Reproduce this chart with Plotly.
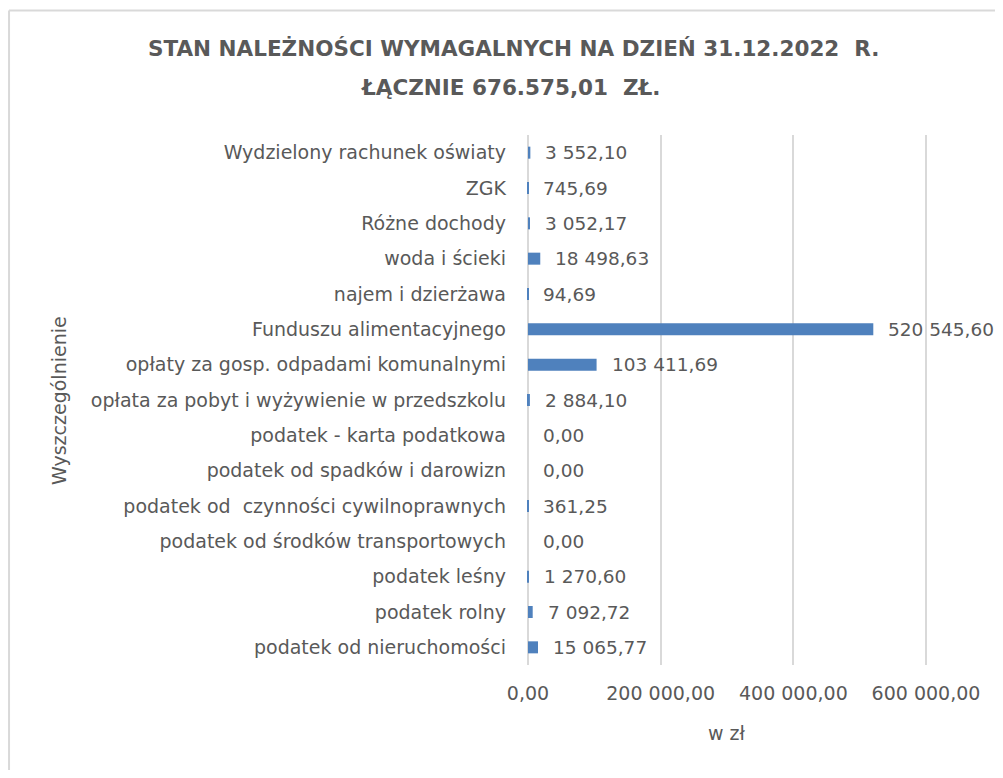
import plotly.graph_objects as go

categories = [
    "podatek od nieruchomości",
    "podatek rolny",
    "podatek leśny",
    "podatek od środków transportowych",
    "podatek od  czynności cywilnoprawnych",
    "podatek od spadków i darowizn",
    "podatek - karta podatkowa",
    "opłata za pobyt i wyżywienie w przedszkolu",
    "opłaty za gosp. odpadami komunalnymi",
    "Funduszu alimentacyjnego",
    "najem i dzierżawa",
    "woda i ścieki",
    "Różne dochody",
    "ZGK",
    "Wydzielony rachunek oświaty",
]
values = [15065.77, 7092.72, 1270.60, 0.00, 361.25, 0.00, 0.00, 2884.10,
          103411.69, 520545.60, 94.69, 18498.63, 3052.17, 745.69, 3552.10]
x_ticks = [0, 200000, 400000, 600000]

title_line1 = "STAN NALEŻNOŚCI WYMAGALNYCH NA DZIEŃ 31.12.2022  R."
title_line2 = "ŁĄCZNIE 676.575,01  ZŁ."
x_title = "w zł"
y_title = "Wyszczególnienie"

FONT = "DejaVu Sans"
TXT = "#595959"
GRID = "#d9d9d9"
FS = 19


def fmt(v):
    s = f"{v:,.2f}"
    return s.replace(",", " ").replace(".", ",")


fig = go.Figure()
fig.add_trace(go.Bar(
    y=categories, x=values, orientation="h",
    marker=dict(color="#4f81bd", line=dict(width=0)),
    hoverinfo="x+y",
))

annotations = []
for c, v in zip(categories, values):
    annotations.append(dict(
        x=v, y=c, xref="x", yref="y", text=fmt(v), showarrow=False,
        xanchor="left", yanchor="middle", xshift=13,
        font=dict(family=FONT, size=18.5, color=TXT),
    ))

annotations += [
    dict(x=-0.0323, y=1.164, xref="paper", yref="paper", text="<b>" + title_line1 + "</b>",
         showarrow=False, xanchor="center", yanchor="middle",
         font=dict(family=FONT, size=21.5, color=TXT)),
    dict(x=-0.0373, y=1.0905, xref="paper", yref="paper", text="<b>" + title_line2 + "</b>",
         showarrow=False, xanchor="center", yanchor="middle",
         font=dict(family=FONT, size=21.5, color=TXT)),
    dict(x=0.5, y=-0.129, xref="paper", yref="paper", text=x_title, showarrow=False,
         xanchor="center", yanchor="middle",
         font=dict(family=FONT, size=FS, color=TXT)),
    dict(x=-1.1617, y=0.5, xref="paper", yref="paper", text=y_title, showarrow=False,
         xanchor="center", yanchor="middle", textangle=-90,
         font=dict(family=FONT, size=FS, color=TXT)),
]

fig.update_layout(
    width=987, height=762, autosize=False,
    paper_bgcolor="white", plot_bgcolor="white",
    margin=dict(l=518, r=67, t=127.4, b=105.3),
    separators=", ",
    showlegend=False,
    bargap=0.66,
    font=dict(family=FONT, size=FS, color=TXT),
    annotations=annotations,
    xaxis=dict(
        range=[-3000, 603000], tickvals=x_ticks, tickformat=",.2f",
        showgrid=True, gridcolor=GRID, gridwidth=1.5, zeroline=False,
        showline=False, ticks="", ticklabelstandoff=15,
        tickfont=dict(family=FONT, size=FS, color=TXT), fixedrange=True,
    ),
    yaxis=dict(
        categoryorder="array", categoryarray=categories,
        showgrid=False, zeroline=False, showline=False, ticks="",
        ticklabelstandoff=19, automargin=False,
        tickfont=dict(family=FONT, size=FS, color=TXT), fixedrange=True,
    ),
    shapes=[
        dict(type="line", xref="paper", yref="paper", x0=-1.286, x1=1.3, y0=1.235, y1=1.235,
             line=dict(color=GRID, width=2)),
        dict(type="line", xref="paper", yref="paper", x0=-1.286, x1=-1.286, y0=-0.3, y1=1.235,
             line=dict(color=GRID, width=2)),
    ],
)

fig.write_html("out.html")
